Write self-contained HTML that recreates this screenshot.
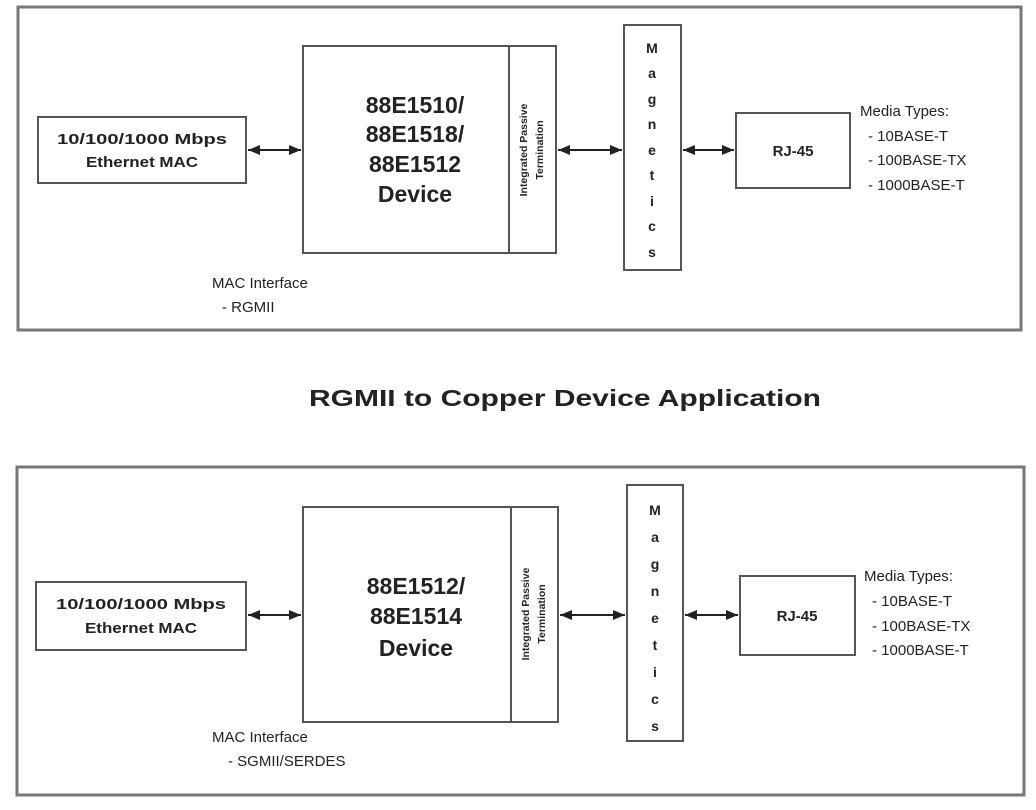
<!DOCTYPE html>
<html><head><meta charset="utf-8"><style>
html,body{margin:0;padding:0;background:#fff;}
svg{display:block;}
text{font-family:"Liberation Sans",Arimo,Arial,Helvetica,sans-serif;fill:#222;}
</style></head><body>
<svg width="1036" height="810" viewBox="0 0 1036 810" xmlns="http://www.w3.org/2000/svg">
<defs>
<marker id="a" viewBox="0 0 12 10" refX="12" refY="5" markerWidth="13" markerHeight="10" markerUnits="userSpaceOnUse" orient="auto-start-reverse"><path d="M0,0 L12,5 L0,10 z" fill="#222"/></marker>
</defs>
<g fill="none" stroke="#555" stroke-width="2">
<rect x="18" y="7" width="1003" height="323" stroke="#777" stroke-width="3"/>
<rect x="38" y="117" width="208" height="66"/>
<rect x="303" y="46" width="253" height="207"/>
<line x1="509" y1="46" x2="509" y2="253"/>
<rect x="624" y="25" width="57" height="245"/>
<rect x="736" y="113" width="114" height="75"/>
<rect x="17" y="467" width="1007" height="328" stroke="#777" stroke-width="3"/>
<rect x="36" y="582" width="210" height="68"/>
<rect x="303" y="507" width="255" height="215"/>
<line x1="511" y1="507" x2="511" y2="722"/>
<rect x="627" y="485" width="56" height="256"/>
<rect x="740" y="576" width="115" height="79"/>
</g>
<g stroke="#222" stroke-width="2" marker-start="url(#a)" marker-end="url(#a)">
<line x1="248" y1="150" x2="301" y2="150"/>
<line x1="558" y1="150" x2="622" y2="150"/>
<line x1="683" y1="150" x2="734" y2="150"/>
<line x1="248" y1="615" x2="301" y2="615"/>
<line x1="560" y1="615" x2="625" y2="615"/>
<line x1="685" y1="615" x2="738" y2="615"/>
</g>
<g font-weight="bold" text-anchor="middle">
<text x="142" y="144" font-size="15" textLength="170" lengthAdjust="spacingAndGlyphs">10/100/1000 Mbps</text>
<text x="142" y="167" font-size="15" textLength="112" lengthAdjust="spacingAndGlyphs">Ethernet MAC</text>
<text x="415" y="113" font-size="23">88E1510/</text>
<text x="415" y="142" font-size="23">88E1518/</text>
<text x="415" y="172" font-size="23">88E1512</text>
<text x="415" y="202" font-size="23">Device</text>
<text x="793" y="156" font-size="15">RJ-45</text>
<g font-size="14">
<text x="652" y="53">M</text><text x="652" y="78">a</text><text x="652" y="104">g</text><text x="652" y="129">n</text><text x="652" y="155">e</text><text x="652" y="180">t</text><text x="652" y="206">i</text><text x="652" y="231">c</text><text x="652" y="257">s</text>
</g>
<text transform="translate(527,150) rotate(-90)" font-size="10.5">Integrated Passive</text>
<text transform="translate(543,150) rotate(-90)" font-size="10.5">Termination</text>
</g>
<g font-size="15">
<text x="860" y="116">Media Types:</text>
<text x="868" y="141">- 10BASE-T</text>
<text x="868" y="165">- 100BASE-TX</text>
<text x="868" y="190">- 1000BASE-T</text>
<text x="212" y="288">MAC Interface</text>
<text x="222" y="312">- RGMII</text>
</g>
<text x="309" y="406" font-size="23" font-weight="bold" textLength="512" lengthAdjust="spacingAndGlyphs">RGMII to Copper Device Application</text>
<g font-weight="bold" text-anchor="middle">
<text x="141" y="609" font-size="15" textLength="170" lengthAdjust="spacingAndGlyphs">10/100/1000 Mbps</text>
<text x="141" y="633" font-size="15" textLength="112" lengthAdjust="spacingAndGlyphs">Ethernet MAC</text>
<text x="416" y="594" font-size="23">88E1512/</text>
<text x="416" y="624" font-size="23">88E1514</text>
<text x="416" y="656" font-size="23">Device</text>
<text x="797" y="621" font-size="15">RJ-45</text>
<g font-size="14">
<text x="655" y="515">M</text><text x="655" y="542">a</text><text x="655" y="569">g</text><text x="655" y="596">n</text><text x="655" y="623">e</text><text x="655" y="650">t</text><text x="655" y="677">i</text><text x="655" y="704">c</text><text x="655" y="731">s</text>
</g>
<text transform="translate(529,614) rotate(-90)" font-size="10.5">Integrated Passive</text>
<text transform="translate(545,614) rotate(-90)" font-size="10.5">Termination</text>
</g>
<g font-size="15">
<text x="864" y="581">Media Types:</text>
<text x="872" y="606">- 10BASE-T</text>
<text x="872" y="631">- 100BASE-TX</text>
<text x="872" y="655">- 1000BASE-T</text>
<text x="212" y="742">MAC Interface</text>
<text x="228" y="766">- SGMII/SERDES</text>
</g>
</svg>
</body></html>
